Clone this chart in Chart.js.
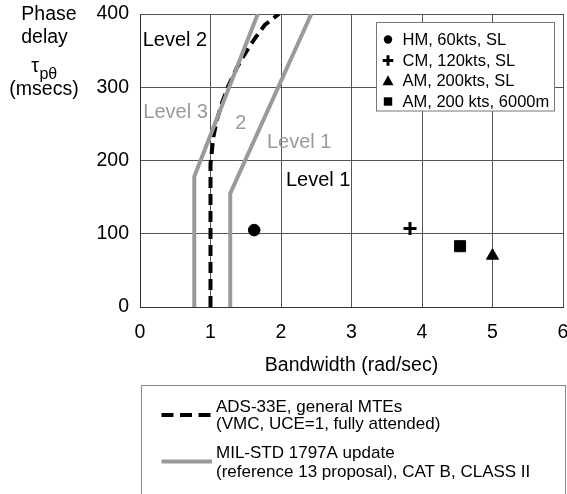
<!DOCTYPE html>
<html>
<head>
<meta charset="utf-8">
<script src="https://cdn.jsdelivr.net/npm/chart.js@4.4.0/dist/chart.umd.min.js"></script>
<style>
  html, body { margin: 0; padding: 0; background: #fff; }
  #wrap { width: 567px; height: 494px; position: relative; }
</style>
</head>
<body>
<div id="wrap"><canvas id="phaseChart"></canvas></div>
<script>
const FONT = '"Liberation Sans", Arial, Helvetica, sans-serif';

// axes
const xTicks = [0, 1, 2, 3, 4, 5, 6];
const yTicks = [0, 100, 200, 300, 400];
const yTitleLines = ['Phase', 'delay', '(msecs)'];

// ADS-33E boundary (dashed)
const adsBandwidth = [1.0, 1.0, 1.04, 1.09, 1.16, 1.25, 1.37, 1.49, 1.61, 1.77, 1.97];
const adsDelay = [0, 195, 232, 255, 278, 301, 326, 346, 364, 385, 400];

// MIL-STD 1797A update boundaries (grey)
const milLevel3Bandwidth = [0.77, 0.77, 1.67];
const milLevel3Delay = [0, 178, 400];
const milLevel1Bandwidth = [1.28, 1.28, 2.43];
const milLevel1Delay = [0, 155, 400];

// test points
const pointLabels = ['HM, 60kts, SL', 'CM, 120kts, SL', 'AM, 200kts, SL', 'AM, 200 kts, 6000m'];
const pointBandwidth = [1.62, 3.83, 5.0, 4.54];
const pointDelay = [105, 107, 70, 83];

const lineLabels = [
  ['ADS-33E, general MTEs', '(VMC, UCE=1, fully attended)'],
  ['MIL-STD 1797A update', '(reference 13 proposal), CAT B, CLASS II']
];

// region annotations, in data coordinates
const regionLabels = ['Level 2', 'Level 3', '2', 'Level 1', 'Level 1'];
const regionX = [0.038, 0.047, 1.35, 1.8, 2.07];
const regionY = [364, 265, 250, 224, 173];
const regionGrey = [false, true, true, true, false];

const GREY = '#9a9a9a';
const markerStyle = {
  circle: { r: 5.8, bw: 1 },
  cross: { r: 6.5, bw: 3 },
  triangle: { r: 7, bw: 1 },
  rect: { r: 7.8, bw: 1 }
};
const pointShapes = ['circle', 'cross', 'triangle', 'rect'];

const toXY = (xs, ys) => xs.map((v, i) => ({ x: v, y: ys[i] }));

function drawMarker(ctx, shape, cx, cy, r) {
  ctx.beginPath();
  if (shape === 'circle') {
    ctx.arc(cx, cy, r, 0, Math.PI * 2);
    ctx.fill();
  } else if (shape === 'rect') {
    ctx.fillRect(cx - r, cy - r, 2 * r, 2 * r);
  } else if (shape === 'triangle') {
    ctx.moveTo(cx, cy - r);
    ctx.lineTo(cx + r * 0.95, cy + r * 0.75);
    ctx.lineTo(cx - r * 0.95, cy + r * 0.75);
    ctx.closePath();
    ctx.fill();
  } else if (shape === 'cross') {
    ctx.lineWidth = 3;
    ctx.moveTo(cx - r, cy); ctx.lineTo(cx + r, cy);
    ctx.moveTo(cx, cy - r); ctx.lineTo(cx, cy + r);
    ctx.stroke();
  }
}

const annotate = {
  id: 'annotate',
  afterDraw(chart) {
    const { ctx, scales: { x, y } } = chart;
    ctx.save();

    // region labels
    ctx.font = `20px ${FONT}`;
    ctx.textBaseline = 'middle';
    ctx.textAlign = 'left';
    regionLabels.forEach((t, i) => {
      ctx.fillStyle = regionGrey[i] ? GREY : '#000';
      ctx.fillText(t, x.getPixelForValue(regionX[i]), y.getPixelForValue(regionY[i]));
    });

    // y axis title
    ctx.fillStyle = '#000';
    ctx.textBaseline = 'alphabetic';
    ctx.textAlign = 'center';
    ctx.font = `19.5px ${FONT}`;
    ctx.fillText(yTitleLines[0], 49, 20);
    ctx.fillText(yTitleLines[1], 44.5, 42.5);
    ctx.fillText(yTitleLines[2], 44, 95);
    ctx.textAlign = 'left';
    const tauW = ctx.measureText('τ').width;
    ctx.font = `16px ${FONT}`;
    const subW = ctx.measureText('pθ').width;
    const sx = 44 - (tauW + subW) / 2;
    ctx.font = `19.5px ${FONT}`;
    ctx.fillText('τ', sx, 71.5);
    ctx.font = `16px ${FONT}`;
    ctx.fillText('pθ', sx + tauW + 0.5, 79);

    // point legend (top right)
    ctx.fillStyle = '#fff';
    ctx.fillRect(376.5, 22.5, 178, 88.5);
    ctx.strokeStyle = '#777';
    ctx.lineWidth = 1;
    ctx.strokeRect(376.5, 22.5, 178, 88.5);
    const rows = [39.5, 60.5, 81, 101.5];
    const legendR = { circle: 4.2, cross: 5.3, triangle: 5.8, rect: 4.2 };
    pointLabels.forEach((t, i) => {
      ctx.fillStyle = '#000';
      ctx.strokeStyle = '#000';
      drawMarker(ctx, pointShapes[i], 388, rows[i], legendR[pointShapes[i]]);
      ctx.font = `16.5px ${FONT}`;
      ctx.textBaseline = 'middle';
      ctx.fillText(t, 402.5, rows[i] + 0.5);
    });

    // line legend (bottom)
    ctx.strokeStyle = '#888';
    ctx.lineWidth = 1;
    ctx.strokeRect(141.5, 385.5, 424, 130);
    ctx.lineWidth = 4;
    ctx.strokeStyle = '#000';
    ctx.setLineDash([12, 6.5]);
    ctx.beginPath();
    ctx.moveTo(161.5, 415); ctx.lineTo(212, 415);
    ctx.stroke();
    ctx.setLineDash([]);
    ctx.strokeStyle = GREY;
    ctx.beginPath();
    ctx.moveTo(161.5, 461.5); ctx.lineTo(212, 461.5);
    ctx.stroke();
    ctx.fillStyle = '#000';
    ctx.font = `17px ${FONT}`;
    ctx.textBaseline = 'middle';
    ctx.fillText(lineLabels[0][0], 216, 407);
    ctx.fillText(lineLabels[0][1], 216, 424);
    ctx.fillText(lineLabels[1][0], 216, 453);
    ctx.fillText(lineLabels[1][1], 216, 472);

    ctx.restore();
  }
};

new Chart(document.getElementById('phaseChart'), {
  type: 'scatter',
  data: {
    datasets: [
      {
        label: 'MIL-STD Level 3',
        data: toXY(milLevel3Bandwidth, milLevel3Delay),
        showLine: true, borderColor: GREY, borderWidth: 4, pointRadius: 0, fill: false
      },
      {
        label: 'MIL-STD Level 1',
        data: toXY(milLevel1Bandwidth, milLevel1Delay),
        showLine: true, borderColor: GREY, borderWidth: 4, pointRadius: 0, fill: false
      },
      {
        label: 'ADS-33E',
        data: toXY(adsBandwidth, adsDelay),
        showLine: true, borderColor: '#000', borderWidth: 4, borderDash: [11, 6],
        pointRadius: 0, fill: false
      },
      {
        label: 'Test points',
        data: toXY(pointBandwidth, pointDelay),
        pointStyle: pointShapes,
        pointRadius: pointShapes.map(s => markerStyle[s].r),
        pointBorderWidth: pointShapes.map(s => markerStyle[s].bw),
        pointBackgroundColor: '#000',
        pointBorderColor: '#000'
      }
    ]
  },
  options: {
    responsive: true,
    maintainAspectRatio: false,
    animation: false,
    layout: { autoPadding: false, padding: { left: 0, right: 4, top: 14, bottom: 117 } },
    plugins: { legend: { display: false }, tooltip: { enabled: false } },
    scales: {
      x: {
        type: 'linear', min: 0, max: 6,
        afterBuildTicks: (s) => { s.ticks = xTicks.map(v => ({ value: v })); },
        afterFit: (s) => { s.height = 70; s.paddingLeft = 0; s.paddingRight = 0; },
        grid: { color: '#555', lineWidth: 1, drawTicks: false },
        border: { color: '#333', width: 1 },
        ticks: { color: '#000', padding: 14, font: { family: FONT, size: 19.5 } },
        title: {
          display: true, text: 'Bandwidth (rad/sec)', color: '#000',
          font: { family: FONT, size: 19.5 }, padding: { top: 4, bottom: 0 }
        }
      },
      y: {
        type: 'linear', min: 0, max: 400,
        afterBuildTicks: (s) => { s.ticks = yTicks.map(v => ({ value: v })); },
        afterFit: (s) => { s.width = 140; s.paddingTop = 0; s.paddingBottom = 0; },
        grid: { color: '#555', lineWidth: 1, drawTicks: false },
        border: { color: '#333', width: 1 },
        ticks: { color: '#000', padding: 11, font: { family: FONT, size: 19.5 } }
      }
    }
  },
  plugins: [annotate]
});
</script>
</body>
</html>
